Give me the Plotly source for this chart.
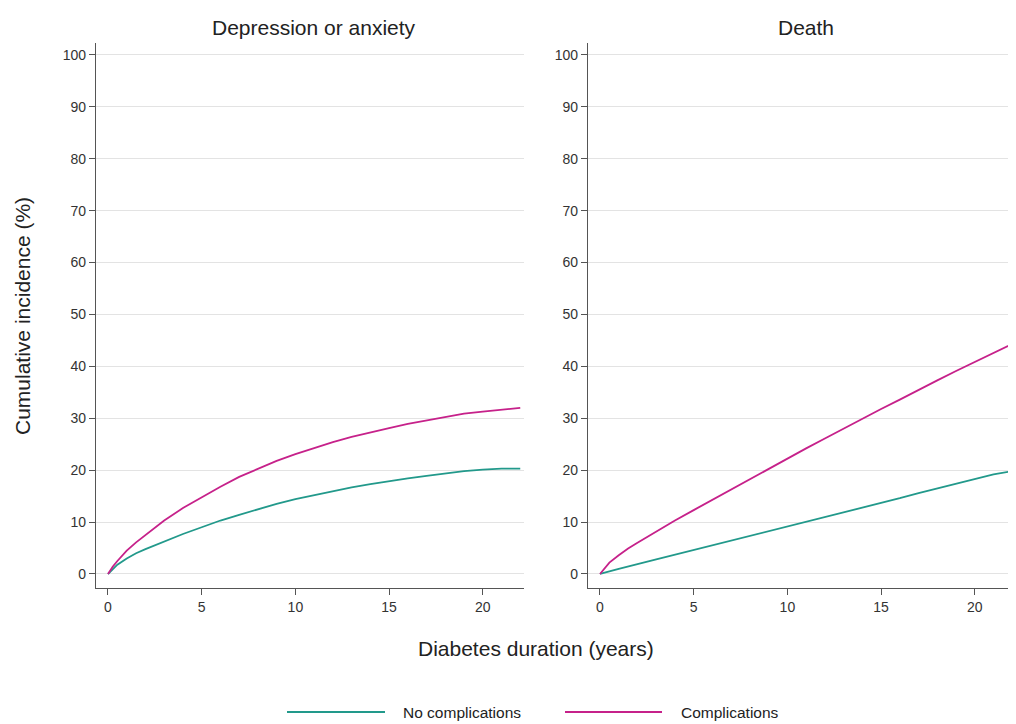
import plotly.graph_objects as go

# Data (years, cumulative incidence %)
years = [0, 0.25, 0.5, 1, 1.5, 2, 3, 4, 5, 6, 7, 8, 9, 10, 11, 12, 13, 14, 15, 16, 17, 18, 19, 20, 21, 22]
dep_no_comp = [0, 1.0, 1.8, 3.0, 4.0, 4.8, 6.3, 7.7, 9.0, 10.3, 11.4, 12.5, 13.5, 14.4, 15.2, 16.0, 16.7, 17.3, 17.9, 18.4, 18.9, 19.4, 19.8, 20.1, 20.3, 20.3]
dep_comp = [0, 1.4, 2.5, 4.5, 6.1, 7.5, 10.3, 12.7, 14.8, 16.8, 18.7, 20.3, 21.8, 23.1, 24.3, 25.4, 26.4, 27.3, 28.1, 28.9, 29.6, 30.3, 30.9, 31.3, 31.7, 32.0]
death_years = [0, 0.25, 0.5, 1, 1.5, 2, 3, 4, 5, 6, 7, 8, 9, 10, 11, 12, 13, 14, 15, 16, 17, 18, 19, 20, 21, 22, 22.2]
death_no_comp = [0, 0.3, 0.5, 1.0, 1.5, 1.9, 2.8, 3.7, 4.6, 5.5, 6.4, 7.3, 8.2, 9.1, 10.0, 11.0, 11.9, 12.8, 13.7, 14.6, 15.6, 16.5, 17.5, 18.4, 19.2, 19.8, 19.9]
death_comp = [0, 1.2, 2.2, 3.6, 4.9, 6.0, 8.2, 10.3, 12.3, 14.3, 16.3, 18.3, 20.3, 22.3, 24.2, 26.1, 28.0, 30.0, 31.8, 33.6, 35.5, 37.3, 39.1, 40.8, 42.5, 44.3, 44.8]

panel_titles = ["Depression or anxiety", "Death"]
series_names = ["No complications", "Complications"]
x_ticks = [0, 5, 10, 15, 20]
y_ticks = list(range(0, 101, 10))

TEAL = "#22998b"
MAGENTA = "#c6218a"
FONT = "Liberation Sans, Arial, sans-serif"
OFF = 8  # page body margin
W, H = 1016 - OFF, 724 - OFF

def px_x(p):
    return (p - OFF) / W

def px_y(p):
    return 1 - (p - OFF) / H

fig = go.Figure()
panels = [(years, dep_no_comp, dep_comp, "x", "y"), (death_years, death_no_comp, death_comp, "x2", "y2")]
for xs, nc, c, xa, ya in panels:
    fig.add_trace(go.Scatter(x=xs, y=nc, mode="lines", line=dict(color=TEAL, width=1.8),
                             name=series_names[0], xaxis=xa, yaxis=ya, showlegend=False))
    fig.add_trace(go.Scatter(x=xs, y=c, mode="lines", line=dict(color=MAGENTA, width=1.8),
                             name=series_names[1], xaxis=xa, yaxis=ya, showlegend=False))

ydom = [px_y(588), px_y(43)]
xcommon = dict(range=[-0.64, 22.2], tickvals=x_ticks, showgrid=False, zeroline=False,
               showline=True, linecolor="#555", linewidth=1.2, ticks="outside", ticklen=6,
               tickcolor="#555", tickfont=dict(size=14, color="#333", family=FONT))
ycommon = dict(range=[-2.7, 102.3], tickvals=y_ticks, showgrid=True, gridcolor="#e3e3e3", gridwidth=1,
               zeroline=False, showline=True, linecolor="#555", linewidth=1.2, ticks="outside",
               ticklen=6, tickcolor="#555", tickfont=dict(size=14, color="#333", family=FONT), domain=ydom)

fig.update_layout(
    width=W, height=H,
    margin=dict(l=0, r=0, t=0, b=0),
    paper_bgcolor="white", plot_bgcolor="white",
    font=dict(family=FONT, color="#222"),
    xaxis=dict(domain=[px_x(96), px_x(524)], anchor="y", **xcommon),
    yaxis=dict(anchor="x", **ycommon),
    xaxis2=dict(domain=[px_x(588), 1.0], anchor="y2", **xcommon),
    yaxis2=dict(anchor="x2", **ycommon),
)

TITLE_SIZE = 21
annotations = [
    dict(text=panel_titles[0], x=px_x(314), y=px_y(27), xref="paper", yref="paper",
         showarrow=False, font=dict(size=TITLE_SIZE, color="#222", family=FONT), xanchor="center", yanchor="middle"),
    dict(text=panel_titles[1], x=px_x(806), y=px_y(27), xref="paper", yref="paper",
         showarrow=False, font=dict(size=TITLE_SIZE, color="#222", family=FONT), xanchor="center", yanchor="middle"),
    dict(text="Cumulative incidence (%)", x=px_x(22), y=px_y(316), xref="paper", yref="paper",
         showarrow=False, textangle=-90, font=dict(size=TITLE_SIZE, color="#222", family=FONT),
         xanchor="center", yanchor="middle"),
    dict(text="Diabetes duration (years)", x=px_x(536), y=px_y(648), xref="paper", yref="paper",
         showarrow=False, font=dict(size=TITLE_SIZE, color="#222", family=FONT), xanchor="center", yanchor="middle"),
    dict(text=series_names[0], x=px_x(401), y=px_y(712), xref="paper", yref="paper",
         showarrow=False, font=dict(size=15.5, color="#222", family=FONT), xanchor="left", yanchor="middle"),
    dict(text=series_names[1], x=px_x(679), y=px_y(712), xref="paper", yref="paper",
         showarrow=False, font=dict(size=15.5, color="#222", family=FONT), xanchor="left", yanchor="middle"),
]
fig.update_layout(annotations=annotations)

shapes = [
    dict(type="line", xref="paper", yref="paper", x0=px_x(287), x1=px_x(385), y0=px_y(712), y1=px_y(712),
         line=dict(color=TEAL, width=1.8)),
    dict(type="line", xref="paper", yref="paper", x0=px_x(565), x1=px_x(662), y0=px_y(712), y1=px_y(712),
         line=dict(color=MAGENTA, width=1.8)),
]
fig.update_layout(shapes=shapes)

fig.write_html("out.html")
